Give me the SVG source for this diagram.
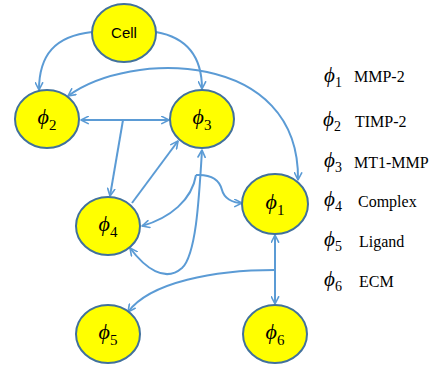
<svg xmlns="http://www.w3.org/2000/svg" width="439" height="367" viewBox="0 0 439 367">
<style>
.node ellipse{fill:#FFFF00;stroke:#41719C;stroke-width:2}
.edge{fill:none;stroke:#5B9BD5;stroke-width:2}
.phi{font-family:"Liberation Serif","DejaVu Serif",serif;font-style:italic;font-size:22px;fill:#000}
.sub{font-family:"Liberation Serif","DejaVu Serif",serif;font-size:15px;fill:#000}
.lphi{font-family:"Liberation Serif","DejaVu Serif",serif;font-style:italic;font-size:21px;fill:#000}
.lsub{font-family:"Liberation Serif","DejaVu Serif",serif;font-size:14px;fill:#000}
.ltxt{font-family:"Liberation Serif",serif;font-size:16px;fill:#000}
.cell{font-family:"Liberation Sans",Arial,sans-serif;font-size:15px;fill:#000}
</style>
<defs>
<marker id="ah" viewBox="0 0 10 10" refX="9" refY="5" markerWidth="9" markerHeight="9" markerUnits="userSpaceOnUse" orient="auto-start-reverse">
<path d="M1,1 L9,5 L1,9" fill="none" stroke="#5B9BD5" stroke-width="1.8" stroke-linecap="round" stroke-linejoin="round"/>
</marker>
</defs>
<g id="connectors">
<path class="edge" d="M92,32 C55,36 39,55 39,90" marker-end="url(#ah)"/>
<path class="edge" d="M156,32 C190,38 202,60 202,89" marker-end="url(#ah)"/>
<path class="edge" d="M68,96 C130,50 300,50 298,180" marker-start="url(#ah)" marker-end="url(#ah)"/>
<path class="edge" d="M81,120 L169,120" marker-start="url(#ah)" marker-end="url(#ah)"/>
<path class="edge" d="M123,120 L110,196" marker-end="url(#ah)"/>
<path class="edge" d="M132,203 L178,141" marker-end="url(#ah)"/>
<path class="edge" d="M202,150 C199,200 196,255 182,268 C165,283 145,268 130,248" marker-start="url(#ah)" marker-end="url(#ah)"/>
<path class="edge" d="M196,175 C214,174 220,182 222,190 C224,198 232,203 242,203" marker-end="url(#ah)"/>
<path class="edge" d="M196,175 C192,200 170,218 142,226" marker-end="url(#ah)"/>
<path class="edge" d="M275,235 L275,304" marker-start="url(#ah)" marker-end="url(#ah)"/>
<path class="edge" d="M275,270 C215,270 150,282 128,312" marker-end="url(#ah)"/>
</g>
<g id="cell" class="node"><ellipse cx="124" cy="33" rx="32" ry="29"/><text class="cell" x="124" y="38" text-anchor="middle">Cell</text></g>
<g id="phi2" class="node"><ellipse cx="47" cy="119" rx="32" ry="29"/><text x="47" y="124" text-anchor="middle"><tspan class="phi">ϕ</tspan><tspan class="sub" dy="6">2</tspan></text></g>
<g id="phi3" class="node"><ellipse cx="202" cy="119" rx="32" ry="29"/><text x="202" y="124" text-anchor="middle"><tspan class="phi">ϕ</tspan><tspan class="sub" dy="6">3</tspan></text></g>
<g id="phi4" class="node"><ellipse cx="108" cy="226" rx="32" ry="29"/><text x="108" y="231" text-anchor="middle"><tspan class="phi">ϕ</tspan><tspan class="sub" dy="6">4</tspan></text></g>
<g id="phi1" class="node"><ellipse cx="275" cy="204" rx="33" ry="30"/><text x="275" y="209" text-anchor="middle"><tspan class="phi">ϕ</tspan><tspan class="sub" dy="6">1</tspan></text></g>
<g id="phi5" class="node"><ellipse cx="108" cy="334" rx="32" ry="29"/><text x="108" y="339" text-anchor="middle"><tspan class="phi">ϕ</tspan><tspan class="sub" dy="6">5</tspan></text></g>
<g id="phi6" class="node"><ellipse cx="275" cy="334" rx="32" ry="29"/><text x="275" y="339" text-anchor="middle"><tspan class="phi">ϕ</tspan><tspan class="sub" dy="6">6</tspan></text></g>
<g id="legend">
<text x="324" y="82"><tspan class="lphi">ϕ</tspan><tspan class="lsub" dy="5">1</tspan></text><text class="ltxt" x="354" y="82">MMP-2</text>
<text x="323" y="126"><tspan class="lphi">ϕ</tspan><tspan class="lsub" dy="5">2</tspan></text><text class="ltxt" x="355" y="127">TIMP-2</text>
<text x="324" y="167"><tspan class="lphi">ϕ</tspan><tspan class="lsub" dy="5">3</tspan></text><text class="ltxt" x="354" y="168">MT1-MMP</text>
<text x="324" y="206"><tspan class="lphi">ϕ</tspan><tspan class="lsub" dy="5">4</tspan></text><text class="ltxt" x="358" y="207">Complex</text>
<text x="324" y="246"><tspan class="lphi">ϕ</tspan><tspan class="lsub" dy="5">5</tspan></text><text class="ltxt" x="359" y="247">Ligand</text>
<text x="324" y="286"><tspan class="lphi">ϕ</tspan><tspan class="lsub" dy="5">6</tspan></text><text class="ltxt" x="359" y="287">ECM</text>
</g>
</svg>
